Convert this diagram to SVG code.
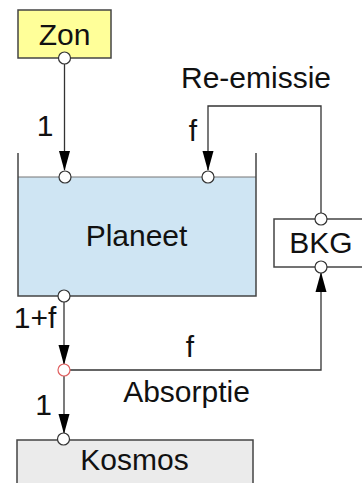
<svg xmlns="http://www.w3.org/2000/svg" width="362" height="483" viewBox="0 0 362 483">
<defs>
<style>
.lbl{font-family:"Liberation Sans",Arial,sans-serif;font-size:30px;fill:#111;}
.mid{text-anchor:middle;}
.box{stroke:#444;stroke-width:1.5;}
.con{fill:none;stroke:#333;stroke-width:1.3;}
.port{fill:#fff;stroke:#333;stroke-width:1.2;}
.red{fill:#fff;stroke:#e06060;stroke-width:1.2;}
</style>
</defs>
<rect width="362" height="483" fill="#fff"/>
<g id="connectors">
<path class="con" d="M64.5,63 V170"/>
<path d="M59,151 L70,151 L64.5,171 Z" fill="#000"/>
<path class="con" d="M321,213 V106 H208 V170"/>
<path d="M202.5,151 L213.5,151 L208,171 Z" fill="#000"/>
<path class="con" d="M64,301 V364"/>
<path d="M58.5,345 L69.5,345 L64,365 Z" fill="#000"/>
<path class="con" d="M70,370 H321 V273"/>
<path d="M315.5,292 L326.5,292 L321,272 Z" fill="#000"/>
<path class="con" d="M64,376 V433"/>
<path d="M58.5,414 L69.5,414 L64,434 Z" fill="#000"/>
</g>
<g id="zon">
<rect class="box" x="18" y="10" width="93" height="48" fill="#ffff99"/>
<text class="lbl mid" x="64.5" y="45">Zon</text>
<circle class="port" cx="64.5" cy="58" r="6"/>
</g>
<g id="planeet">
<rect x="18" y="177" width="238" height="119" fill="#cfe5f3"/>
<path d="M18,177 H256" stroke="#777" stroke-width="1.2" fill="none"/>
<path class="box" d="M18,153 V296 H256 V153" fill="none"/>
<text class="lbl mid" x="136.5" y="246">Planeet</text>
<circle class="port" cx="65" cy="177" r="6"/>
<circle class="port" cx="208" cy="177" r="6"/>
<circle class="port" cx="64" cy="296" r="6"/>
</g>
<g id="bkg">
<rect class="box" x="274" y="219" width="100" height="48" fill="#fff"/>
<text class="lbl mid" x="321" y="253">BKG</text>
<circle class="port" cx="321" cy="219" r="6"/>
<circle class="port" cx="321" cy="267" r="6"/>
</g>
<g id="absorptie">
<circle class="red" cx="64" cy="370" r="6"/>
</g>
<g id="kosmos">
<rect class="box" x="17" y="440" width="236" height="50" fill="#ebebeb"/>
<text class="lbl mid" x="134.5" y="470">Kosmos</text>
<circle class="port" cx="63.5" cy="439" r="6"/>
</g>
<g id="labels">
<text class="lbl mid" x="45" y="136">1</text>
<text class="lbl mid" x="256" y="88">Re-emissie</text>
<text class="lbl mid" x="193" y="141">f</text>
<text class="lbl mid" x="35" y="328">1+f</text>
<text class="lbl mid" x="190" y="357">f</text>
<text class="lbl mid" x="186.5" y="402">Absorptie</text>
<text class="lbl mid" x="43.5" y="415">1</text>
</g>
</svg>
